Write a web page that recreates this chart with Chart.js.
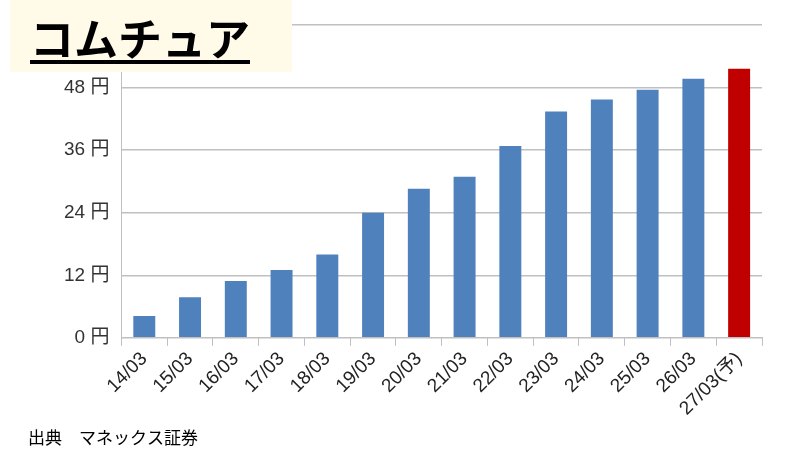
<!DOCTYPE html>
<html><head><meta charset="utf-8">
<script src="https://cdn.jsdelivr.net/npm/chart.js@4/dist/chart.umd.min.js"></script>
<style>html,body{margin:0;padding:0;background:#fff}#w{width:800px;height:450px}</style>
</head><body><div id="w"><canvas id="c"></canvas></div>
<script>
const categories=["14/03","15/03","16/03","17/03","18/03","19/03","20/03","21/03","22/03","23/03","24/03","25/03","26/03","27/03(予)"];
const values=[4.2,7.8,10.9,13.0,16.0,24.0,28.6,30.9,36.8,43.4,45.7,47.6,49.7,51.6];
const barColors=values.map((v,i)=>i===values.length-1?"#c00000":"#4f81bd");
const titleText="コムチュア";
const sourceText="出典　マネックス証券";
const overlay={id:"overlay",afterDraw(ch){const c=ch.ctx;c.save();
c.fillStyle="#fffbe8";c.fillRect(10,0,282,72);
c.fillStyle="#000";c.font="bold 44px 'Noto Sans CJK JP'";c.textBaseline="alphabetic";c.fillText(titleText,30,56);
const w=c.measureText(titleText).width;c.fillRect(30,60,w,4);
c.font="17px 'Noto Sans CJK JP'";c.fillText(sourceText,28,444);c.restore();}};
new Chart(document.getElementById("c"),{type:"bar",
data:{labels:categories,datasets:[{data:values,backgroundColor:barColors,barPercentage:0.48,categoryPercentage:1}]},
options:{responsive:true,maintainAspectRatio:false,animation:false,
layout:{padding:{left:52,right:38,top:25,bottom:28}},
plugins:{legend:{display:false},tooltip:{enabled:false}},
scales:{
y:{min:0,max:60,ticks:{stepSize:12,color:"#333",font:{size:19,family:"'Liberation Sans','Noto Sans CJK JP'"},callback:v=>v+" 円",padding:12},
grid:{color:"#c0c0c0",lineWidth:1.5,drawTicks:false},border:{color:"#c0c0c0"}},
x:{ticks:{color:"#222",maxRotation:45,minRotation:45,font:{size:19,family:"'Liberation Sans','Noto Sans CJK JP'"},padding:2},
grid:{drawOnChartArea:false,offset:true,tickLength:8,color:"#c0c0c0"},border:{color:"#c0c0c0"}}}},
plugins:[overlay]});
</script></body></html>
